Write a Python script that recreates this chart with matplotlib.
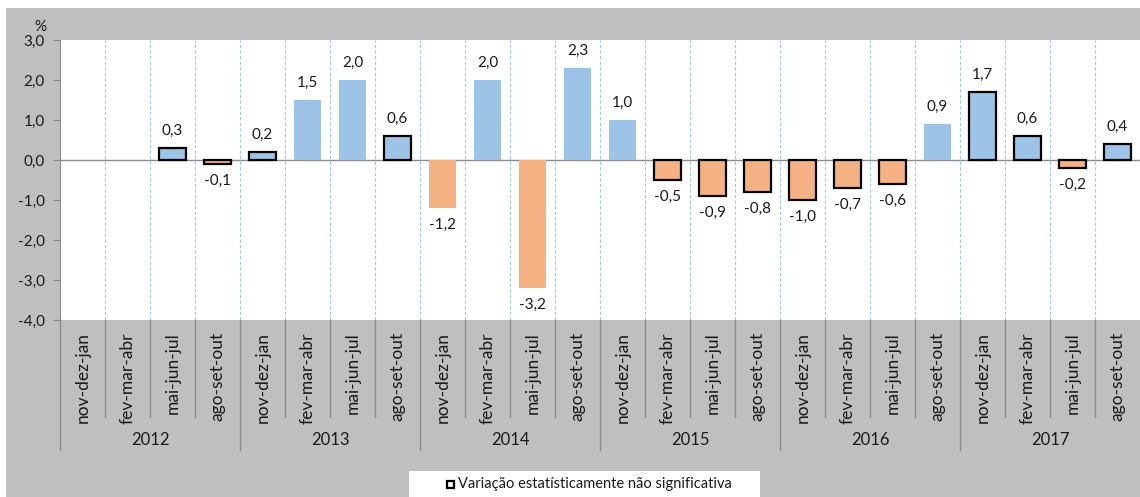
import matplotlib.pyplot as plt
import matplotlib.transforms as mtransforms
from matplotlib.patches import Rectangle
import numpy as np

plt.rcParams['font.family'] = ['Lato', 'DejaVu Sans']

# dados
years = ['2012', '2013', '2014', '2015', '2016', '2017']
quarters = ['nov-dez-jan', 'fev-mar-abr', 'mai-jun-jul', 'ago-set-out']
values = [np.nan, np.nan, 0.3, -0.1,
          0.2, 1.5, 2.0, 0.6,
          -1.2, 2.0, -3.2, 2.3,
          1.0, -0.5, -0.9, -0.8,
          -1.0, -0.7, -0.6, 0.9,
          1.7, 0.6, -0.2, 0.4]
# True = variação não significativa (barra com contorno)
not_signif = [False, False, True, True,
              True, False, False, True,
              False, False, False, False,
              False, True, True, True,
              True, True, True, False,
              True, True, True, True]
legend_text = 'Variação estatísticamente não significativa'

blue = '#9DC3E6'
orange = '#F4B183'
bg = '#BFBFBF'
txt = '#1a1a1a'

W, H = 1140, 497
fig = plt.figure(figsize=(W / 100, H / 100), dpi=100)
fig.patch.set_facecolor('white')
fig.add_artist(Rectangle((6 / W, 0), 1 - 6 / W, 1 - 8 / H,
                         transform=fig.transFigure, facecolor=bg,
                         edgecolor='none', zorder=-10))

ax = fig.add_axes([60 / W, 1 - 320 / H, 1 - 60 / W, 280 / H])
ax.set_facecolor('white')

n = len(values)
x = np.arange(n)
vals = np.array(values, dtype=float)
colors = [blue if (not np.isnan(v) and v >= 0) else orange for v in vals]
for i in range(n):
    if np.isnan(vals[i]):
        continue
    ax.bar(x[i], vals[i], width=0.62, color=colors[i],
           edgecolor='black' if not_signif[i] else 'none',
           linewidth=1.6 if not_signif[i] else 0, zorder=3)
    lbl = f'{vals[i]:.1f}'.replace('.', ',')
    if vals[i] >= 0:
        ax.annotate(lbl, (x[i], vals[i]), xytext=(0, 7), textcoords='offset points',
                    ha='center', va='bottom', fontsize=11, color=txt)
    else:
        ax.annotate(lbl, (x[i], vals[i]), xytext=(0, -7), textcoords='offset points',
                    ha='center', va='top', fontsize=11, color=txt)

ax.set_xlim(-0.5, n - 0.5)
ax.set_ylim(-4, 3)
ax.set_yticks(np.arange(-4, 4, 1))
ax.set_yticklabels([f'{t:.1f}'.replace('.', ',') for t in np.arange(-4, 4, 1)],
                   fontsize=11, color=txt)
ax.tick_params(axis='y', length=5, color='#8c8c8c', pad=6)
ax.set_xticks([])
for s in ['top', 'right', 'bottom']:
    ax.spines[s].set_visible(False)
ax.spines['left'].set_color('#8c8c8c')

ax.axhline(0, color='#8c8c8c', linewidth=1.0, zorder=2)
for b in np.arange(0.5, n - 0.5, 1):
    ax.axvline(b, color='#9DC8F0', linewidth=0.8, linestyle=(0, (3, 2)), zorder=1)

ax.text(-20 / 1080, 1.02, '%', transform=ax.transAxes, ha='center', va='bottom',
        fontsize=11, color=txt)

# eixo de categorias em dois níveis
trans = mtransforms.blended_transform_factory(ax.transData, ax.transAxes)
sep_short = -(417 - 320) / 280
sep_long = -(450 - 320) / 280
for i in range(n):
    ax.text(x[i], -12 / 280, quarters[i % 4], transform=trans, rotation=90,
            ha='center', va='top', fontsize=12.5, color=txt)
for b in np.arange(-0.5, n, 1):
    y1 = sep_long if (b + 0.5) % 4 == 0 else sep_short
    if b >= n - 0.5:
        continue
    ax.plot([b, b], [0, y1], transform=trans, color='#8c8c8c',
            linewidth=1.0, clip_on=False)
for j, yr in enumerate(years):
    ax.text(j * 4 + 1.5, -(440 - 320) / 280, yr, transform=trans,
            ha='center', va='center', fontsize=12, color=txt)

# legenda
fig.add_artist(Rectangle((409 / W, 0), (760 - 409) / W, 26 / H,
                         transform=fig.transFigure, facecolor='white',
                         edgecolor='none'))
fig.add_artist(Rectangle((447 / W, 1 - 488 / H), 7 / W, 7 / H,
                         transform=fig.transFigure, facecolor='white',
                         edgecolor='black', linewidth=1.6))
fig.text(458 / W, 1 - 484 / H, legend_text, ha='left', va='center',
         fontsize=10.5, color=txt)

fig.savefig('out.png', dpi=100)
